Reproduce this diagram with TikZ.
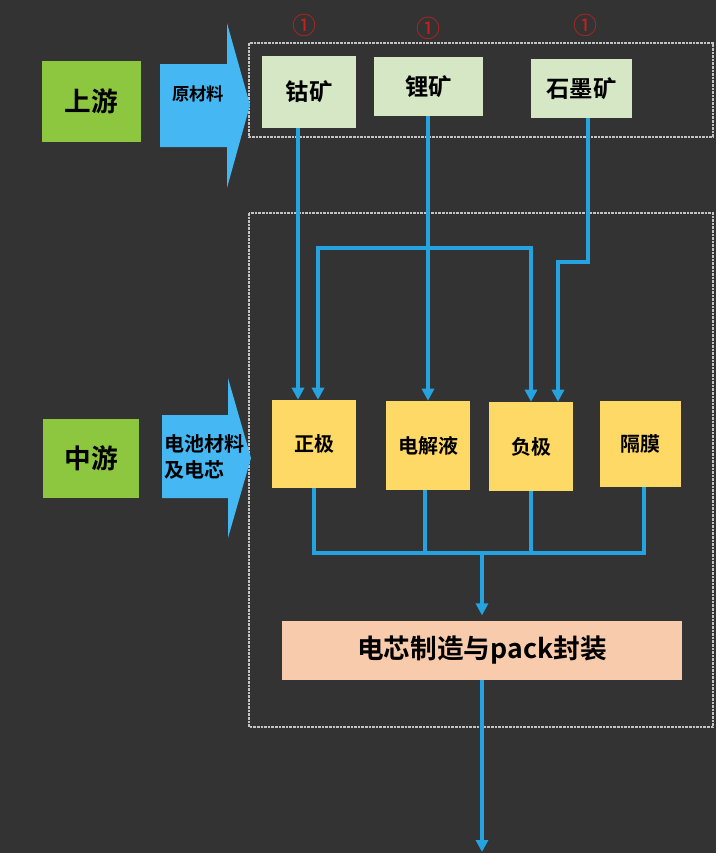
\documentclass[tikz,border=0pt]{standalone}
\usepackage{fontspec}
\newfontfamily\cjk{Noto Sans CJK SC}[BoldFont={Noto Sans CJK SC Bold}]
\usetikzlibrary{arrows.meta}
\definecolor{bg}{HTML}{333333}
\definecolor{gbox}{HTML}{8DC63F}
\definecolor{lgbox}{HTML}{D5E7C4}
\definecolor{ybox}{HTML}{FFD966}
\definecolor{pbox}{HTML}{F8CBAD}
\definecolor{barrow}{HTML}{45B7F2}
\definecolor{bline}{HTML}{25A3E0}
\definecolor{dgray}{HTML}{C4C4C4}
\definecolor{cred}{HTML}{C8201E}
\begin{document}
\begin{tikzpicture}[x=0.75pt,y=-0.75pt,
  font=\cjk\bfseries,
  box/.style={inner sep=0pt, text=black},
  stage/.style={box, fill=gbox, font=\cjk\bfseries\fontsize{20}{22}\selectfont},
  ore/.style={box, fill=lgbox, font=\cjk\bfseries\fontsize{17.5}{20}\selectfont},
  mat/.style={box, fill=ybox, minimum width=63pt, font=\cjk\bfseries\fontsize{15}{18}\selectfont},
  conn/.style={draw=bline, line width=3pt, -{Triangle[width=9pt,length=9pt]}},
  bus/.style={draw=bline, line width=3pt},
  frame/.style={draw=dgray, line width=0.9pt, dash pattern=on 2pt off 0.7pt},
  fatarrow/.style={fill=barrow},
  circnum/.style={text=cred, font=\cjk\fontsize{18}{19}\selectfont, inner sep=0pt}
]
\fill[bg] (0,0) rectangle (716,853);
\useasboundingbox (0,0) rectangle (716,853);

% frames
\draw[frame] (249,43) rectangle (713,137);
\draw[frame] (249,213) rectangle (713,727);

% stage boxes
\node[stage, minimum width=74.25pt, minimum height=60.75pt] (up) at (91.5,101.5) {上游};
\node[stage, minimum width=72pt, minimum height=59.25pt] (mid) at (91,458.5) {中游};

% fat arrows
\fill[fatarrow] (160,64) -- (227,64) -- (227,23) -- (250,105) -- (227,188) -- (227,147) -- (160,147) -- cycle;
\node[font=\cjk\bfseries\fontsize{13}{15}\selectfont, text=black, inner sep=0pt] (raw) at (198,94) {原材料};
\fill[fatarrow] (162,415) -- (228,415) -- (228,378) -- (251,458) -- (228,538) -- (228,498) -- (162,498) -- cycle;
\node[font=\cjk\bfseries\fontsize{15}{19.5}\selectfont, text=black, inner sep=0pt, align=left, anchor=west] (cell) at (164,457) {电池材料\\及电芯};

% ores
\node[ore, minimum width=70.5pt, minimum height=54pt] (co) at (309,92) {钴矿};
\node[ore, minimum width=81.75pt, minimum height=44.25pt] (li) at (428.5,86.5) {锂矿};
\node[ore, minimum width=75.75pt, minimum height=44.25pt] (gr) at (581.5,88.5) {石墨矿};

% circled numbers
\node[circnum] (c1) at (304,25) {①};
\node[circnum] (c2) at (428,28) {①};
\node[circnum] (c3) at (585,25) {①};

% materials
\node[mat, minimum height=66pt] (zj) at (314,444) {正极};
\node[mat, minimum height=66.75pt] (dj) at (428,445.5) {电解液};
\node[mat, minimum height=66.75pt] (fj) at (531,446.5) {负极};
\node[mat, minimum width=60.75pt, minimum height=64.5pt] (gm) at (640,444) {隔膜};

% pack
\node[box, fill=pbox, minimum width=300pt, minimum height=44.25pt, font=\cjk\bfseries\fontsize{20}{22}\selectfont] (pack) at (482,650.5) {电芯制造与pack封装};

% helper coordinates
\coordinate (xco) at (298,0);
\coordinate (xbl) at (318,0);
\coordinate (ybr) at (0,248);
\coordinate (xgr) at (588,0);
\coordinate (xgr2) at (558,0);
\coordinate (ygr) at (0,262);
\coordinate (xdj) at (425,0);
\coordinate (xgm) at (644,0);
\coordinate (bus) at (482,553);
\coordinate (out) at (482,852);

% ore connectors
\draw[conn] (co.south -| xco) -- (zj.north -| xco);
\draw[conn] (li.south -| dj.north) -- (dj.north);
\draw[conn] (gr.south -| xgr) -- (xgr |- ygr) -- (xgr2 |- ygr) -- (fj.north -| xgr2);
\draw[bline, line width=3pt, {Triangle[width=9pt,length=9pt]}-{Triangle[width=9pt,length=9pt]}]
  (zj.north -| xbl) -- (xbl |- ybr) -- (fj.north |- ybr) -- (fj.north);

% collector bus
\draw[bus] (zj.south) -- (zj.south |- bus) -- (xgm |- bus) -- (gm.south -| xgm);
\draw[bus] (dj.south -| xdj) -- (xdj |- bus);
\draw[bus] (fj.south) -- (fj.south |- bus);
\draw[conn, shorten >=4pt] (bus) -- (pack.north);
\draw[conn] (pack.south) -- (out);
\end{tikzpicture}
\end{document}
